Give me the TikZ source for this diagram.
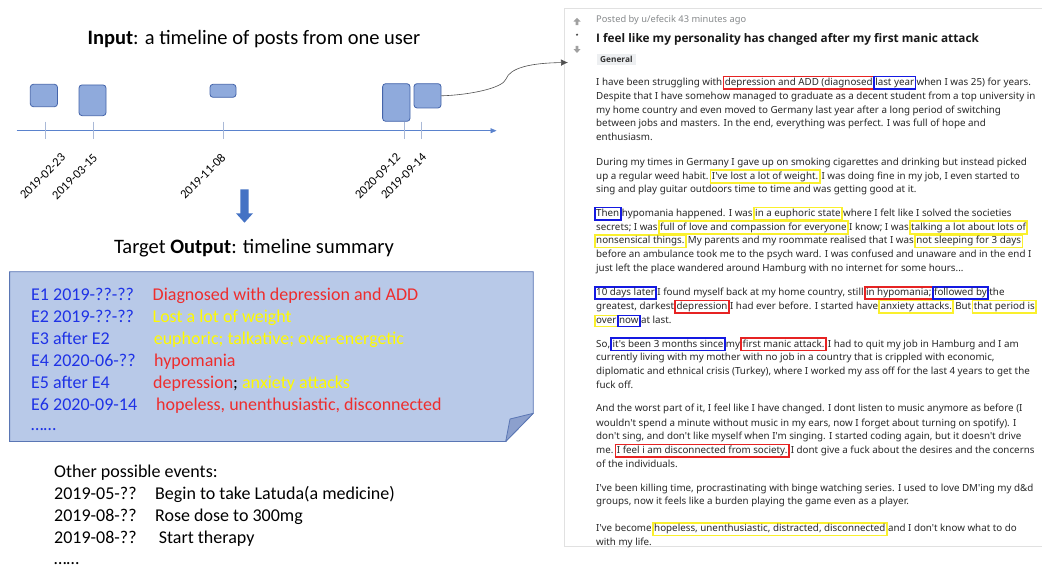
\documentclass[tikz,border=0pt]{standalone}
\usepackage{fontspec}
\setmainfont{Carlito}
\newfontfamily\notof{Noto Sans}
\newfontfamily\opensf{Open Sans}
\usetikzlibrary{arrows.meta}
\definecolor{tlfill}{RGB}{143,170,220}
\definecolor{tlborder}{RGB}{68,100,170}
\definecolor{axisblue}{RGB}{90,130,205}
\definecolor{tickc}{RGB}{170,185,215}
\definecolor{arrowblue}{RGB}{68,114,196}
\definecolor{sumfill}{RGB}{184,201,232}
\definecolor{sumborder}{RGB}{90,118,180}
\definecolor{flapc}{RGB}{140,160,205}
\definecolor{sblue}{RGB}{30,50,230}
\definecolor{sred}{RGB}{238,45,45}
\definecolor{syel}{RGB}{255,250,0}
\definecolor{hred}{RGB}{230,35,35}
\definecolor{hblue}{RGB}{20,25,225}
\definecolor{hyel}{RGB}{250,240,45}
\definecolor{bodyc}{RGB}{40,40,40}
\definecolor{metac}{RGB}{135,138,140}
\definecolor{panelc}{RGB}{225,225,225}
\definecolor{tagc}{RGB}{237,239,241}
\definecolor{votec}{RGB}{160,160,160}
\definecolor{connc}{RGB}{80,80,80}
\newcommand\hlbx[2]{\leavevmode\rlap{\kern-2.3pt\textcolor{#1}{\setlength{\fboxsep}{0.5pt}\setlength{\fboxrule}{1.8pt}\fbox{\rule[-2pt]{0pt}{8.2pt}\phantom{#2}}}}#2}
\newcommand\bl[3]{\node[body] (#1) at (596,#2) {#3};}
\begin{document}
\begin{tikzpicture}[x=1pt,y=-1pt,
  ttl/.style={font=\fontsize{20.5}{24}\selectfont, anchor=base, inner sep=0pt},
  datelbl/.style={font=\fontsize{12.5}{14}\selectfont, rotate=45, anchor=east, inner sep=0pt},
  tlbox/.style={draw=tlborder, fill=tlfill, rounded corners=3pt, line width=0.8pt, inner sep=0pt},
  tickl/.style={draw=tickc, line width=0.6pt},
  sumtxt/.style={font=\fontsize{18}{21}\selectfont, anchor=base west, inner sep=0pt},
  body/.style={font=\notof\fontsize{9.8}{13}\selectfont, text=bodyc, anchor=base west, inner sep=0pt},
  conn/.style={draw=connc, line width=0.6pt}]
\useasboundingbox (0,0) rectangle (1042,568);
\fill[white] (0,0) rectangle (1042,568);

% ---------- left: input timeline ----------
\node[ttl] (title) at (254,44) {\textbf{Input}: a timeline of posts from one user};
\node[tlbox, minimum width=27.2pt, minimum height=22.4pt] (b1) at (43.9,95.5) {};
\node[tlbox, minimum width=27pt, minimum height=30.7pt] (b2) at (92.5,100.3) {};
\node[tlbox, minimum width=26pt, minimum height=13pt] (b3) at (223,90.8) {};
\node[tlbox, minimum width=27.4pt, minimum height=37.6pt] (b4) at (396.3,102.5) {};
\node[tlbox, minimum width=27pt, minimum height=24.3pt] (b5) at (427.5,95.8) {};

\coordinate (axs) at (16.5,130.7);
\coordinate (axe) at (496.5,130.7);
\draw[axisblue, line width=0.7pt, -{Triangle[length=6pt,width=5pt]}] (axs) -- (axe);
\foreach \tx/\nm in {45.5/t1,93/t2,223/t3,404.6/t4,421/t5}{
  \coordinate (\nm a) at (\tx,121.7);
  \coordinate (\nm b) at (\tx,139.3);
  \draw[tickl] (\nm a) -- (\nm b);
}
\node[datelbl] (d1) at (63.5,155.5) {2019-02-23};
\node[datelbl] (d2) at (95.5,156) {2019-03-15};
\node[datelbl] (d3) at (223.5,155.5) {2019-11-08};
\node[datelbl] (d4) at (398.5,155.5) {2020-09-12};
\node[datelbl] (d5) at (424.5,155.5) {2019-09-14};

% down block arrow
\fill[arrowblue] (240.3,189.3) -- (248.7,189.3) -- (248.7,213.3) -- (253,213.3) -- (244.5,222.7) -- (236,213.3) -- (240.3,213.3) -- cycle;

\node[ttl] (target) at (254,253) {Target \textbf{Output}: timeline summary};

% ---------- summary box ----------
\draw[fill=sumfill, draw=sumborder, line width=0.8pt] (9.6,271.7) -- (533.3,271.7) -- (533.3,413.3) -- (505.7,441.5) -- (9.6,441.5) -- cycle;
\draw[fill=flapc, draw=sumborder, line width=0.8pt, line join=round] (533.3,413.3) -- (510,419) -- (505.7,441.5) -- cycle;

\node[sumtxt, text=sblue] (s1a) at (31,300) {E1 2019-??-??};
\node[sumtxt, text=sred] (s1b) at (152.5,300) {Diagnosed with depression and ADD};
\node[sumtxt, text=sblue] (s2a) at (31,322) {E2 2019-??-??};
\node[sumtxt, text=syel] (s2b) at (152.5,322) {Lost a lot of weight};
\node[sumtxt, text=sblue] (s3a) at (31,344.3) {E3 after E2};
\node[sumtxt, text=syel] (s3b) at (153.6,344.3) {euphoric; talkative; over-energetic};
\node[sumtxt, text=sblue] (s4a) at (31,366.3) {E4 2020-06-??};
\node[sumtxt, text=sred] (s4b) at (154,366.3) {hypomania};
\node[sumtxt, text=sblue] (s5a) at (31,388.3) {E5 after E4};
\node[sumtxt] (s5b) at (153,388.3) {\textcolor{sred}{depression}\textcolor{black}{;} \textcolor{syel}{anxiety attacks}};
\node[sumtxt, text=sblue] (s6a) at (31,410.3) {E6 2020-09-14};
\node[sumtxt, text=sred] (s6b) at (156,410.3) {hopeless, unenthusiastic, disconnected};
\node[sumtxt, text=sblue] (s7) at (31,430) {……};

% ---------- other events ----------
\node[sumtxt] (o0) at (54,477) {Other possible events:};
\node[sumtxt] (o1a) at (54,499) {2019-05-??};
\node[sumtxt] (o1b) at (155,499) {Begin to take Latuda(a medicine)};
\node[sumtxt] (o2a) at (54,521) {2019-08-??};
\node[sumtxt] (o2b) at (155,521) {Rose dose to 300mg};
\node[sumtxt] (o3a) at (54,543) {2019-08-??};
\node[sumtxt] (o3b) at (158.7,543) {Start therapy};
\node[sumtxt] (o4) at (54,564) {……};

% ---------- right: reddit post ----------
\draw[panelc, line width=0.8pt] (1042,8.3) -- (564.3,8.3) -- (564.3,546.7) -- (1042,546.7);
% vote arrows
\fill[votec] (573.5,21.5) -- (577,17.8) -- (580.5,21.5) -- (578.3,21.5) -- (578.3,25.2) -- (575.7,25.2) -- (575.7,21.5) -- cycle;
\fill[black!70] (577,34.7) circle (1.2pt);
\fill[votec] (575.7,45.8) -- (578.3,45.8) -- (578.3,49.2) -- (580.5,49.2) -- (577,52.8) -- (573.5,49.2) -- (575.7,49.2) -- cycle;

\node[anchor=base west, inner sep=0pt, font=\notof\fontsize{9.3}{10}\selectfont, text=metac] (posted) at (596,22) {Posted by u/efecik 43 minutes ago};
\node[anchor=base west, inner sep=0pt, font=\opensf\bfseries\fontsize{11.8}{13}\selectfont, text=black!90] (ptitle) at (596,42.3) {I feel like my personality has changed after my first manic attack};
\node[anchor=base west, fill=tagc, inner xsep=3pt, inner ysep=2pt, font=\opensf\bfseries\fontsize{8.3}{9}\selectfont, text=black!80] (tag) at (597,62.5) {General};

% connector from last post to the post
\coordinate (pend) at (568,62.5);
\draw[conn, -{Latex[length=7pt,width=6.5pt]}] (b5.east) .. controls (470,95) and (503,88) .. (506,79) .. controls (510,68) and (530,63) .. (pend);

\bl{p1a}{85.3}{I have been struggling with \hlbx{hred}{depression and ADD (diagnosed} \hlbx{hblue}{last year} when I was 25) for years.}
\bl{p1b}{99.2}{Despite that I have somehow managed to graduate as a decent student from a top university in}
\bl{p1c}{113}{my home country and even moved to Germany last year after a long period of switching}
\bl{p1d}{126.8}{between jobs and masters. In the end, everything was perfect. I was full of hope and}
\bl{p1e}{140.4}{enthusiasm.}

\bl{p2a}{165.3}{During my times in Germany I gave up on smoking cigarettes and drinking but instead picked}
\bl{p2b}{179}{up a regular weed habit. \hlbx{hyel}{I've lost a lot of weight.} I was doing fine in my job, I even started to}
\bl{p2c}{192.8}{sing and play guitar outdoors time to time and was getting good at it.}

\bl{p3a}{216.3}{\hlbx{hblue}{Then} hypomania happened. I was \hlbx{hyel}{in a euphoric state} where I felt like I solved the societies}
\bl{p3b}{230}{secrets; I was \hlbx{hyel}{full of love and compassion for everyone} I know; I was \hlbx{hyel}{talking a lot about lots of}}
\bl{p3c}{243.7}{\hlbx{hyel}{nonsensical things.} My parents and my roommate realised that I was \hlbx{hyel}{not sleeping for 3 days}}
\bl{p3d}{257.5}{before an ambulance took me to the psych ward. I was confused and unaware and in the end I}
\bl{p3e}{271.3}{just left the place wandered around Hamburg with no internet for some hours...}

\bl{p4a}{295.5}{\hlbx{hblue}{10 days later} I found myself back at my home country, still \hlbx{hred}{in hypomania;} \hlbx{hblue}{followed by} the}
\bl{p4b}{309.3}{greatest, darkest \hlbx{hred}{depression} I had ever before. I started have \hlbx{hyel}{anxiety attacks.} But \hlbx{hyel}{that period is}}
\bl{p4c}{323}{\hlbx{hyel}{over} \hlbx{hblue}{now} at last.}

\bl{p5a}{347}{So, \hlbx{hblue}{it's been 3 months since} my \hlbx{hred}{first manic attack.} I had to quit my job in Hamburg and I am}
\bl{p5b}{360.6}{currently living with my mother with no job in a country that is crippled with economic,}
\bl{p5c}{374.2}{diplomatic and ethnical crisis (Turkey), where I worked my ass off for the last 4 years to get the}
\bl{p5d}{388}{fuck off.}

\bl{p6a}{411.8}{And the worst part of it, I feel like I have changed. I dont listen to music anymore as before (I}
\bl{p6b}{426.2}{wouldn't spend a minute without music in my ears, now I forget about turning on spotify). I}
\bl{p6c}{439.8}{don't sing, and don't like myself when I'm singing. I started coding again, but it doesn't drive}
\bl{p6d}{453.3}{me. \hlbx{hred}{I feel i am disconnected from society.} I dont give a fuck about the desires and the concerns}
\bl{p6e}{467}{of the individuals.}

\bl{p7a}{491.3}{I've been killing time, procrastinating with binge watching series. I used to love DM'ing my d\&d}
\bl{p7b}{504.9}{groups, now it feels like a burden playing the game even as a player.}

\bl{p8a}{531.8}{I've become \hlbx{hyel}{hopeless, unenthusiastic, distracted, disconnected} and I don't know what to do}
\bl{p8b}{545.5}{with my life.}
\end{tikzpicture}
\end{document}
